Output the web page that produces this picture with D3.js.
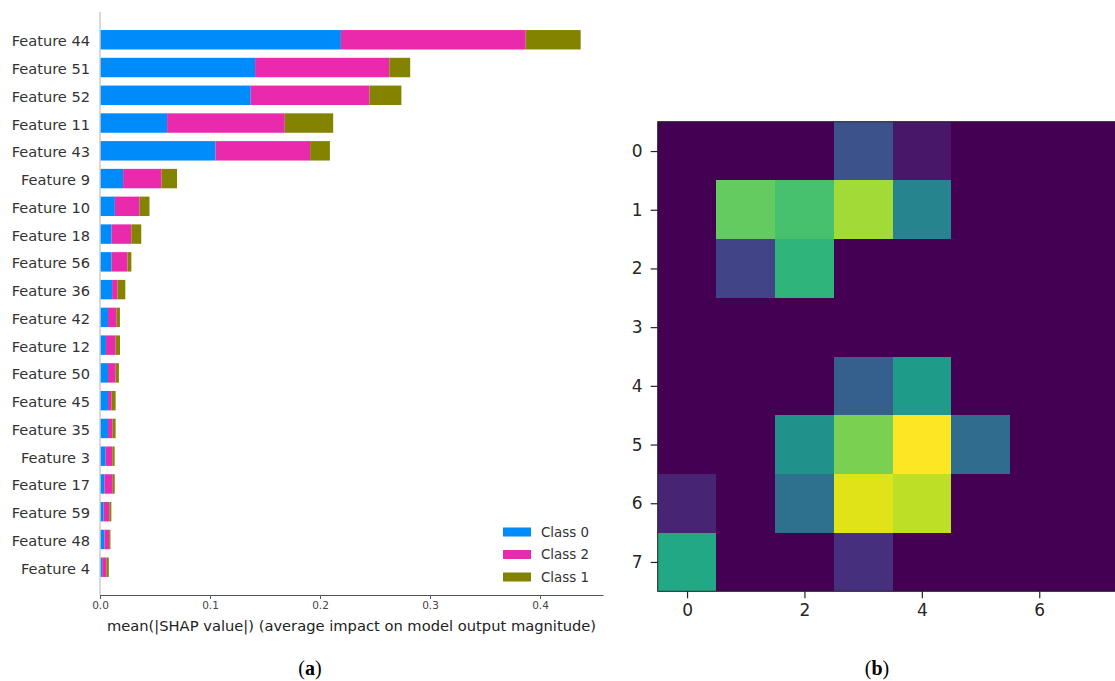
<!DOCTYPE html>
<html>
<head>
<meta charset="utf-8">
<script src="https://cdn.jsdelivr.net/npm/d3@7"></script>
<style>
  body { margin: 0; background: #fff; }
  svg { display: block; font-family: "DejaVu Sans", sans-serif; }
</style>
</head>
<body>
<svg id="fig" width="1115" height="681"></svg>
<script>
// (a) SHAP bar summary: features ordered top to bottom
const features = ["Feature 44", "Feature 51", "Feature 52", "Feature 11", "Feature 43", "Feature 9",
  "Feature 10", "Feature 18", "Feature 56", "Feature 36", "Feature 42", "Feature 12", "Feature 50",
  "Feature 45", "Feature 35", "Feature 3", "Feature 17", "Feature 59", "Feature 48", "Feature 4"];
const class0 = [0.219, 0.141, 0.137, 0.061, 0.105, 0.021, 0.0135, 0.0105, 0.0105, 0.011, 0.0073, 0.0054,
  0.0073, 0.0073, 0.0073, 0.0051, 0.004, 0.0033, 0.004, 0.002];
const class2 = [0.168, 0.122, 0.108, 0.107, 0.086, 0.035, 0.0225, 0.018, 0.0145, 0.005, 0.0078, 0.0088,
  0.0069, 0.0033, 0.0042, 0.0061, 0.0076, 0.0052, 0.0043, 0.004];
const class1 = [0.050, 0.019, 0.029, 0.044, 0.018, 0.014, 0.009, 0.009, 0.0035, 0.007, 0.003, 0.004,
  0.003, 0.0036, 0.0027, 0.0021, 0.0018, 0.0018, 0.0012, 0.002];
const classNames = ["Class 0", "Class 2", "Class 1"];
const classColors = ["#008bfb", "#ea2aad", "#838300"];
const xTicks = [0, 0.1, 0.2, 0.3, 0.4];

// (b) 8x8 image, normalised intensities (viridis)
const pixels = [
  [0, 0, 0, 0.25, 0.06, 0, 0, 0],
  [0, 0.76, 0.71, 0.86, 0.45, 0, 0, 0],
  [0, 0.2, 0.65, 0, 0, 0, 0, 0],
  [0, 0, 0, 0, 0, 0, 0, 0],
  [0, 0, 0, 0.3, 0.55, 0, 0, 0],
  [0, 0, 0.5, 0.8, 1.0, 0.35, 0, 0],
  [0.1, 0, 0.37, 0.95, 0.9, 0, 0, 0],
  [0.6, 0, 0, 0.14, 0, 0, 0, 0]
];
const imgTicks = [0, 2, 4, 6];
const rowTicks = [0, 1, 2, 3, 4, 5, 6, 7];

const svg = d3.select('#fig');

// ---------- (a) stacked horizontal bars ----------
const n = features.length;
const x = d3.scaleLinear().domain([0, 0.4573]).range([100, 603]);
const y = d3.scaleLinear().domain([-1, n]).range([595, 12]);
const barH = (y(0) - y(1)) * 0.7;

const rows = features.map((f, i) => ({ name: f, pos: n - 1 - i, c0: class0[i], c2: class2[i], c1: class1[i] }));
const stack = d3.stack().keys(["c0", "c2", "c1"])(rows);

const gA = svg.append('g');

stack.forEach((layer, k) => {
  gA.append('g')
    .attr('fill', classColors[k])
    .selectAll('rect')
    .data(layer)
    .join('rect')
    .attr('x', d => x(d[0]))
    .attr('width', d => x(d[1]) - x(d[0]))
    .attr('y', d => y(d.data.pos) - barH / 2)
    .attr('height', barH);
});

// light vertical line at zero
gA.append('line')
  .attr('x1', x(0)).attr('x2', x(0))
  .attr('y1', y(n)).attr('y2', y(-1))
  .attr('stroke', '#cccccc').attr('stroke-width', 1.5);

// feature labels
gA.selectAll('text.feat')
  .data(rows)
  .join('text')
  .attr('class', 'feat')
  .attr('x', 90)
  .attr('y', d => y(d.pos) + 1)
  .attr('text-anchor', 'end')
  .attr('dominant-baseline', 'central')
  .attr('font-size', 14.6)
  .attr('fill', '#333')
  .text(d => d.name);

// x axis
const xAxis = gA.append('g')
  .attr('transform', `translate(0,${y(-1)})`)
  .call(d3.axisBottom(x).tickValues(xTicks).tickFormat(d3.format('.1f')).tickSize(4).tickSizeOuter(0));
xAxis.select('.domain').attr('stroke', '#555').attr('stroke-width', 1.2);
xAxis.selectAll('.tick line').attr('stroke', '#555');
xAxis.selectAll('.tick text')
  .attr('font-family', '"DejaVu Sans", sans-serif')
  .attr('font-size', 10.5)
  .attr('fill', '#444')
  .attr('dy', '0.65em');

gA.append('text')
  .attr('x', (x.range()[0] + x.range()[1]) / 2)
  .attr('y', 631)
  .attr('text-anchor', 'middle')
  .attr('font-size', 14.7)
  .attr('fill', '#222')
  .text('mean(|SHAP value|) (average impact on model output magnitude)');

// legend
const leg = gA.append('g');
classNames.forEach((c, k) => {
  const ly = 532 + k * 22.5;
  leg.append('rect')
    .attr('x', 503).attr('y', ly - 4.5)
    .attr('width', 28).attr('height', 9)
    .attr('fill', classColors[k]);
  leg.append('text')
    .attr('x', 541).attr('y', ly)
    .attr('dominant-baseline', 'central')
    .attr('font-size', 13.4)
    .attr('fill', '#333')
    .text(c);
});

// ---------- (b) image ----------
const cell = 58.7;
const ix = d3.scaleLinear().domain([-0.5, 7.5]).range([657.7, 657.7 + 8 * cell]);
const iy = d3.scaleLinear().domain([-0.5, 7.5]).range([121.7, 121.7 + 8 * cell]);
const color = d3.scaleSequential(d3.interpolateViridis).domain([0, 1]);

const cells = [];
pixels.forEach((row, r) => row.forEach((v, c) => cells.push({ r, c, v })));

const gB = svg.append('g');
gB.append('rect')
  .attr('x', ix(-0.5)).attr('y', iy(-0.5))
  .attr('width', ix(7.5) - ix(-0.5)).attr('height', iy(7.5) - iy(-0.5))
  .attr('fill', color(0));
gB.selectAll('rect.px')
  .data(cells.filter(d => d.v > 0))
  .join('rect')
  .attr('class', 'px')
  .attr('x', d => ix(d.c - 0.5))
  .attr('y', d => iy(d.r - 0.5))
  .attr('width', cell)
  .attr('height', cell)
  .attr('shape-rendering', 'crispEdges')
  .attr('fill', d => color(d.v));

gB.append('rect')
  .attr('x', ix(-0.5)).attr('y', iy(-0.5))
  .attr('width', ix(7.5) - ix(-0.5)).attr('height', iy(7.5) - iy(-0.5))
  .attr('fill', 'none').attr('stroke', '#222').attr('stroke-width', 1);

const bx = gB.append('g')
  .attr('transform', `translate(0,${iy(7.5)})`)
  .call(d3.axisBottom(ix).tickValues(imgTicks).tickFormat(d3.format('d')).tickSize(7).tickSizeOuter(0));
bx.select('.domain').remove();
bx.selectAll('.tick line').attr('stroke', '#222').attr('stroke-width', 1.2);
bx.selectAll('.tick text')
  .attr('font-family', '"DejaVu Sans", sans-serif')
  .attr('font-size', 17).attr('fill', '#262626').attr('dy', '0.85em');

const by = gB.append('g')
  .attr('transform', `translate(${ix(-0.5)},0)`)
  .call(d3.axisLeft(iy).tickValues(rowTicks).tickFormat(d3.format('d')).tickSize(7).tickSizeOuter(0));
by.select('.domain').remove();
by.selectAll('.tick line').attr('stroke', '#222').attr('stroke-width', 1.2);
by.selectAll('.tick text')
  .attr('font-family', '"DejaVu Sans", sans-serif')
  .attr('font-size', 17).attr('fill', '#262626').attr('dx', '-0.3em');

// ---------- captions ----------
const captions = [{ cx: 310, t: 'a' }, { cx: 877, t: 'b' }];
captions.forEach(cp => {
  const t = svg.append('text')
    .attr('x', cp.cx).attr('y', 675)
    .attr('text-anchor', 'middle')
    .attr('font-family', '"Liberation Serif", "DejaVu Serif", serif')
    .attr('font-size', 20)
    .attr('fill', '#000');
  t.append('tspan').text('(');
  t.append('tspan').attr('font-weight', 'bold').text(cp.t);
  t.append('tspan').text(')');
});
</script>
</body>
</html>
